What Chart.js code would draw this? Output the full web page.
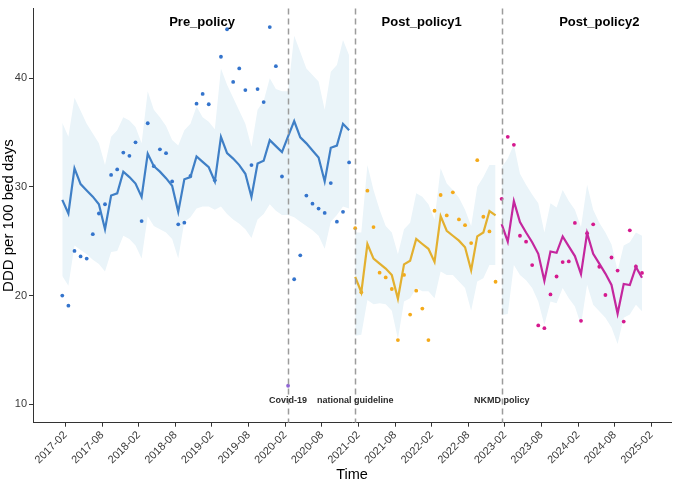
<!DOCTYPE html>
<html>
<head>
<meta charset="utf-8">
<script src="https://cdn.jsdelivr.net/npm/chart.js@4.4.1/dist/chart.umd.min.js"></script>
<style>
  html, body { margin: 0; padding: 0; background: #fff; }
  #wrap { width: 675px; height: 485px; }
</style>
</head>
<body>
<div id="wrap"><canvas id="itsChart" width="675" height="485"></canvas></div>
<script>
// monthly series, first point = 2017-01
const startMonth = '2017-01';
const phaseStart = ['2017-01', '2021-01', '2023-01'];
const phaseNames = ['Pre_policy', 'Post_policy1', 'Post_policy2'];

// fitted (line)
const preFit = [28.8, 27.55, 31.7, 30.25, 29.67, 29.1, 28.4, 26.1, 29.2, 29.4, 31.4, 30.9,
  30.3, 29.07, 33.05, 31.9, 31.4, 30.8, 30.1, 27.7, 30.7, 30.9, 32.8, 32.3,
  31.8, 30.5, 34.6, 33.1, 32.6, 32.0, 31.2, 29.07, 32.15, 32.4, 34.3, 33.75,
  33.2, 34.65, 36.05, 34.55, 34.0, 33.35, 32.7, 30.5, 33.6, 33.8, 35.8, 35.2];
const post1Fit = [21.72, 20.3, 24.74, 23.4, 22.93, 22.48, 21.88, 19.7, 22.87, 23.2, 25.2, 24.74,
  24.3, 23.1, 27.3, 25.96, 25.5, 25.05, 24.44, 22.33, 25.44, 25.8, 27.77, 27.37];
const post2Fit = [26.56, 24.96, 28.68, 26.77, 25.8, 24.9, 23.84, 21.36, 24.05, 23.93, 25.44, 24.53,
  23.63, 21.97, 25.74, 23.84, 22.93, 22.02, 20.97, 18.34, 21.06, 20.97, 22.63, 21.63];

// observed (points)
const preObs = [20.0, 19.07, 24.1, 23.6, 23.4, 25.65, 27.55, 28.4, 31.1, 31.6, 33.15, 32.85,
  34.1, 26.85, 35.85, 31.9, 33.45, 33.1, 30.5, 26.55, 26.7, 31.0, 37.65, 38.55,
  37.6, 30.6, 41.97, 44.5, 39.65, 40.9, 38.9, 32.0, 39.0, 37.8, 44.7, 41.1,
  30.95, 11.7, 21.5, 23.7, 29.2, 28.45, 28.0, 27.6, 30.35, 26.8, 27.7, 32.25];
const post1Obs = [26.2, 20.3, 29.65, 26.3, 22.1, 21.67, 20.6, 15.9, 21.9, 18.25, 20.45, 18.8,
  15.9, 27.8, 29.25, 27.37, 29.5, 27.0, 26.47, 24.83, 32.45, 27.25, 25.9, 21.27];
const post2Obs = [28.9, 34.6, 33.87, 25.5, 24.96, 22.8, 17.25, 17.0, 20.1, 21.75, 23.08, 23.14,
  26.68, 17.67, 25.74, 26.55, 22.65, 20.05, 23.5, 22.3, 17.6, 26.0, 22.68, 22.08];

// interval (ribbon)
const preLo = [21.8, 20.9, 24.6, 24.2, 23.8, 23.3, 22.9, 22.2, 24.0, 24.1, 25.5, 25.2,
  24.6, 23.4, 27.3, 26.4, 26.1, 25.8, 25.2, 23.4, 26.8, 27.2, 28.0, 28.2,
  28.2, 27.9, 28.2, 27.5, 27.0, 26.6, 26.1, 25.3, 27.0, 27.5, 28.4, 27.8,
  27.4, 27.4, 27.2, 26.8, 26.4, 26.0, 25.5, 24.3, 26.8, 27.4, 28.2, 28.0];
const preHi = [35.9, 34.6, 38.2, 37.0, 35.8, 34.9, 34.0, 32.0, 34.6, 35.2, 36.4, 36.1,
  35.5, 34.0, 38.8, 37.1, 36.4, 35.6, 34.3, 33.8, 35.2, 35.8, 37.4, 36.4,
  36.0, 35.3, 40.9, 39.4, 38.2, 37.0, 35.8, 33.7, 37.1, 37.9, 40.0, 39.0,
  38.8, 38.8, 43.9, 42.4, 40.9, 40.3, 39.7, 37.1, 40.6, 41.2, 43.5, 42.1];
const post1Lo = [16.3, 16.4, 19.6, 19.2, 19.3, 19.2, 18.6, 16.0, 19.45, 19.75, 20.7, 20.4,
  20.4, 19.75, 22.2, 21.9, 21.9, 21.3, 20.7, 18.6, 21.3, 21.6, 22.8, 22.8];
const post1Hi = [25.8, 25.8, 32.0, 29.7, 27.9, 26.4, 25.8, 23.8, 26.1, 26.7, 29.4, 29.1,
  28.4, 27.0, 31.7, 30.3, 29.7, 29.0, 27.9, 26.4, 30.0, 30.9, 32.0, 32.0];
const post2Lo = [18.2, 18.3, 22.8, 21.9, 21.4, 20.7, 19.45, 17.3, 19.45, 19.3, 20.7, 19.75,
  19.0, 17.3, 21.0, 19.15, 18.55, 17.95, 17.05, 15.55, 17.95, 18.25, 19.15, 18.55];
const post2Hi = [31.8, 32.6, 33.9, 31.2, 30.2, 29.3, 28.5, 25.8, 28.5, 28.1, 29.7, 28.7,
  27.9, 26.3, 30.2, 27.9, 26.7, 25.8, 24.7, 22.3, 24.6, 24.9, 25.8, 25.5];

// interventions
const eventMonths = ['2020-02', '2021-01', '2023-01'];
const eventNames = ['Covid-19', 'national guideline', 'NKMD policy'];

// axis ticks
const xTickLabels = ['2017-02', '2017-08', '2018-02', '2018-08', '2019-02', '2019-08', '2020-02', '2020-08',
  '2021-02', '2021-08', '2022-02', '2022-08', '2023-02', '2023-08', '2024-02', '2024-08', '2025-02'];
const yTicks = [10, 20, 30, 40];

function monthIndex(s) {
  const [yy, mm] = s.split('-').map(Number);
  const [y0, m0] = startMonth.split('-').map(Number);
  return (yy - y0) * 12 + (mm - m0);
}
function pts(arr, start) {
  const i0 = monthIndex(start);
  return arr.map((v, i) => ({ x: i0 + i, y: v }));
}

const FONT = '"Liberation Sans", Arial, Helvetica, sans-serif';
const bandColor = '#eaf4f9';
const lineCol = ['#3f7fc6', '#e3b02f', '#c4279e'];
const dotCol = ['#3474cc', '#f4aa1a', '#d5198e'];
const covidDot = '#9065d6';

const fits = [preFit, post1Fit, post2Fit];
const obs = [preObs, post1Obs, post2Obs];
const los = [preLo, post1Lo, post2Lo];
const his = [preHi, post1Hi, post2Hi];

const datasets = [];
phaseStart.forEach((st, k) => {
  // ribbon: lower then upper filled to lower
  datasets.push({ data: pts(los[k], st), borderWidth: 0, pointRadius: 0, fill: false, order: 5 });
  datasets.push({ data: pts(his[k], st), borderWidth: 0, pointRadius: 0,
    fill: '-1', backgroundColor: bandColor, order: 5 });
});
phaseStart.forEach((st, k) => {
  datasets.push({ data: pts(obs[k], st), showLine: false, pointRadius: 1.9, pointBorderWidth: 0,
    pointBackgroundColor: c => (c.raw && c.raw.x === monthIndex(eventMonths[0])) ? covidDot : dotCol[k],
    order: 3 });
  datasets.push({ data: pts(fits[k], st), borderColor: lineCol[k], borderWidth: 2.2, pointRadius: 0,
    fill: false, tension: 0, order: 1 });
});

const annot = {
  id: 'annot',
  afterDatasetsDraw(chart) {
    const { ctx, chartArea: a, scales: { x, y } } = chart;
    ctx.save();
    // dashed intervention lines
    ctx.strokeStyle = '#9c9c9c';
    ctx.lineWidth = 1.5;
    ctx.setLineDash([6, 4]);
    eventMonths.forEach(m => {
      const px = Math.round(x.getPixelForValue(monthIndex(m))) + 0.5;
      ctx.beginPath();
      ctx.moveTo(px, a.top);
      ctx.lineTo(px, a.bottom);
      ctx.stroke();
    });
    ctx.setLineDash([]);
    // intervention labels
    ctx.fillStyle = '#2b2b2b';
    ctx.font = 'bold 9px ' + FONT;
    ctx.textAlign = 'center';
    ctx.textBaseline = 'middle';
    eventNames.forEach((t, i) => {
      ctx.fillText(t, x.getPixelForValue(monthIndex(eventMonths[i])), y.getPixelForValue(10.3));
    });
    // phase titles
    ctx.fillStyle = '#000';
    ctx.font = 'bold 13px ' + FONT;
    const phaseX = [22.9, 58.9, 88.0];
    phaseNames.forEach((t, i) => {
      ctx.fillText(t, x.getPixelForValue(phaseX[i]), y.getPixelForValue(45.1));
    });
    // axis titles
    ctx.fillStyle = '#000';
    ctx.font = '14.5px ' + FONT;
    ctx.textBaseline = 'alphabetic';
    ctx.fillText('Time', (a.left + a.right) / 2, 479);
    ctx.translate(12.5, (a.top + a.bottom) / 2);
    ctx.rotate(-Math.PI / 2);
    ctx.font = '15px ' + FONT;
    ctx.fillText('DDD per 100 bed days', 0, 0);
    ctx.restore();
  }
};

new Chart(document.getElementById('itsChart').getContext('2d'), {
  type: 'line',
  data: { datasets: datasets },
  options: {
    responsive: false,
    animation: false,
    devicePixelRatio: 1,
    layout: { padding: { top: 3, right: 2, left: 0, bottom: 0 } },
    plugins: { legend: { display: false }, tooltip: { enabled: false } },
    scales: {
      x: {
        type: 'linear', min: -4.8, max: 99.75,
        afterFit: s => { s.height = 62.3; },
        afterBuildTicks: s => { s.ticks = xTickLabels.map(l => ({ value: monthIndex(l) - 0.47 })); },
        ticks: {
          autoSkip: false, maxRotation: 45, minRotation: 45, padding: 2,
          color: '#3a3a3a', font: { size: 11, family: FONT },
          callback: (v, i) => xTickLabels[i]
        },
        grid: { display: true, drawOnChartArea: false, drawTicks: true, tickLength: 4, tickColor: '#333' },
        border: { display: true, color: '#333', width: 1 }
      },
      y: {
        min: 8.3, max: 46.4,
        afterFit: s => { s.width = 33; },
        afterBuildTicks: s => { s.ticks = yTicks.map(v => ({ value: v })); },
        ticks: { padding: 2, color: '#3a3a3a', font: { size: 11, family: FONT } },
        grid: { display: true, drawOnChartArea: false, drawTicks: true, tickLength: 4, tickColor: '#333' },
        border: { display: true, color: '#333', width: 1 }
      }
    }
  },
  plugins: [annot]
});
</script>
</body>
</html>
